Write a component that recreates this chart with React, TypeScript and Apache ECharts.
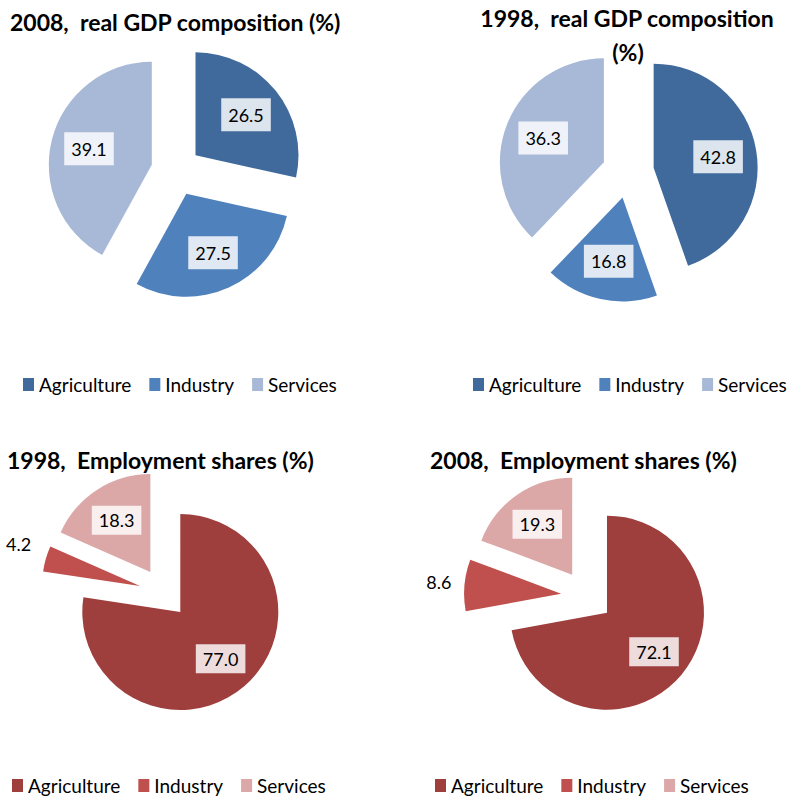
import React, { useEffect, useRef } from 'react';
import * as echarts from 'echarts';

const categories = ['Agriculture', 'Industry', 'Services'];
const gdp2008 = [26.5, 27.5, 39.1];
const gdp1998 = [42.8, 16.8, 36.3];
const emp1998 = [77.0, 4.2, 18.3];
const emp2008 = [72.1, 8.6, 19.3];

const blueColors = ['#416A9C', '#4F81BD', '#A8B9D7'];
const redColors = ['#9E3F3E', '#C0504D', '#DBA7A7'];

type Panel = {
  left: number; top: number; width: number; height: number;
  titles: { text: string; x: number; y: number; align: string }[];
  values: number[]; colors: string[];
  center: [number, number]; radius: number; offset: number;
  legendLeft: number; legendTop: number;
  outsideIndex: number; outsideAdj: [number, number];
  padV: number;
};

const panels: Panel[] = [
  {
    left: 0, top: 0, width: 400, height: 400,
    titles: [{ text: '2008,  real GDP composition (%)', x: 10, y: 22, align: 'left' }],
    values: gdp2008, colors: blueColors,
    center: [176, 171], radius: 103, offset: 25,
    legendLeft: 18, legendTop: 370, outsideIndex: -1, outsideAdj: [0, 0], padV: 8,
  },
  {
    left: 400, top: 0, width: 401, height: 400,
    titles: [
      { text: '1998,  real GDP composition', x: 227, y: 18, align: 'center' },
      { text: '(%)', x: 228, y: 52, align: 'center' },
    ],
    values: gdp1998, colors: blueColors,
    center: [228, 172], radius: 104, offset: 26,
    legendLeft: 68, legendTop: 370, outsideIndex: -1, outsideAdj: [0, 0], padV: 8,
  },
  {
    left: 0, top: 400, width: 400, height: 400,
    titles: [{ text: '1998,  Employment shares (%)', x: 7, y: 60, align: 'left' }],
    values: emp1998, colors: redColors,
    center: [164, 193], radius: 98, offset: 25,
    legendLeft: 7, legendTop: 371, outsideIndex: 1, outsideAdj: [-2, -12], padV: 6,
  },
  {
    left: 400, top: 400, width: 401, height: 400,
    titles: [{ text: '2008,  Employment shares (%)', x: 30, y: 60, align: 'left' }],
    values: emp2008, colors: redColors,
    center: [187, 196], radius: 97, offset: 26,
    legendLeft: 30, legendTop: 371, outsideIndex: 1, outsideAdj: [0, -2], padV: 6,
  },
];

function PieChart({ p }: { p: Panel }) {
  const ref = useRef<HTMLDivElement>(null);
  useEffect(() => {
    if (!ref.current) return;
    const chart = echarts.init(ref.current, undefined, { renderer: 'svg' });
    const total = p.values.reduce((a, b) => a + b, 0);
    const mids: number[] = [];
    let acc = 0;
    p.values.forEach((v) => {
      mids.push(((acc + v / 2) / total) * 360);
      acc += v;
    });
    const extra = p.radius * 0.1;
    const data = p.values.map((v, i) => {
      const item: any = {
        name: categories[i],
        value: v,
        selected: true,
        itemStyle: { color: p.colors[i] },
      };
      if (i === p.outsideIndex) {
        item.label = {
          position: 'outside',
          backgroundColor: 'transparent',
          padding: 0,
        };
        item.labelLine = { show: false, length: 8, length2: 0 };
      }
      return item;
    });
    chart.setOption({
      animation: false,
      graphic: p.titles.map((t) => ({
        type: 'text',
        x: t.x,
        y: t.y,
        style: {
          text: t.text,
          fill: '#000',
          font: 'bold 23px Lato',
          align: t.align,
          verticalAlign: 'middle',
        },
      })),
      legend: {
        left: p.legendLeft,
        top: p.legendTop,
        orient: 'horizontal',
        icon: 'rect',
        itemWidth: 11,
        itemHeight: 13,
        itemGap: 18,
        selectedMode: false,
        data: categories,
        textStyle: { fontSize: 19, fontFamily: 'Lato', color: '#000' },
      },
      series: [
        {
          type: 'pie',
          center: p.center,
          radius: p.radius,
          startAngle: 90,
          clockwise: true,
          selectedMode: 'multiple',
          selectedOffset: p.offset,
          avoidLabelOverlap: false,
          emphasis: { disabled: true },
          select: { itemStyle: { borderWidth: 0 } },
          itemStyle: { borderWidth: 0 },
          label: {
            show: true,
            position: 'inside',
            formatter: (q: any) => Number(q.value).toFixed(1),
            fontSize: 18,
            fontFamily: 'Lato',
            color: '#000',
            backgroundColor: 'rgba(255,255,255,0.82)',
            padding: [p.padV, 7, p.padV - 1, 7],
          },
          labelLine: { show: false },
          labelLayout: (params: any) => {
            const i = params.dataIndex;
            if (i === p.outsideIndex) {
              return { dx: p.outsideAdj[0], dy: p.outsideAdj[1] };
            }
            const a = (mids[i] * Math.PI) / 180;
            return { dx: extra * Math.sin(a), dy: -extra * Math.cos(a) };
          },
          data,
        },
      ],
    });
    return () => chart.dispose();
  }, [p]);
  return (
    <div
      ref={ref}
      style={{ position: 'absolute', left: p.left, top: p.top, width: p.width, height: p.height }}
    />
  );
}

export default function App() {
  return (
    <div style={{ position: 'fixed', left: 0, top: 0, width: 801, height: 800, background: '#fff' }}>
      {panels.map((p, i) => (
        <PieChart key={i} p={p} />
      ))}
    </div>
  );
}
